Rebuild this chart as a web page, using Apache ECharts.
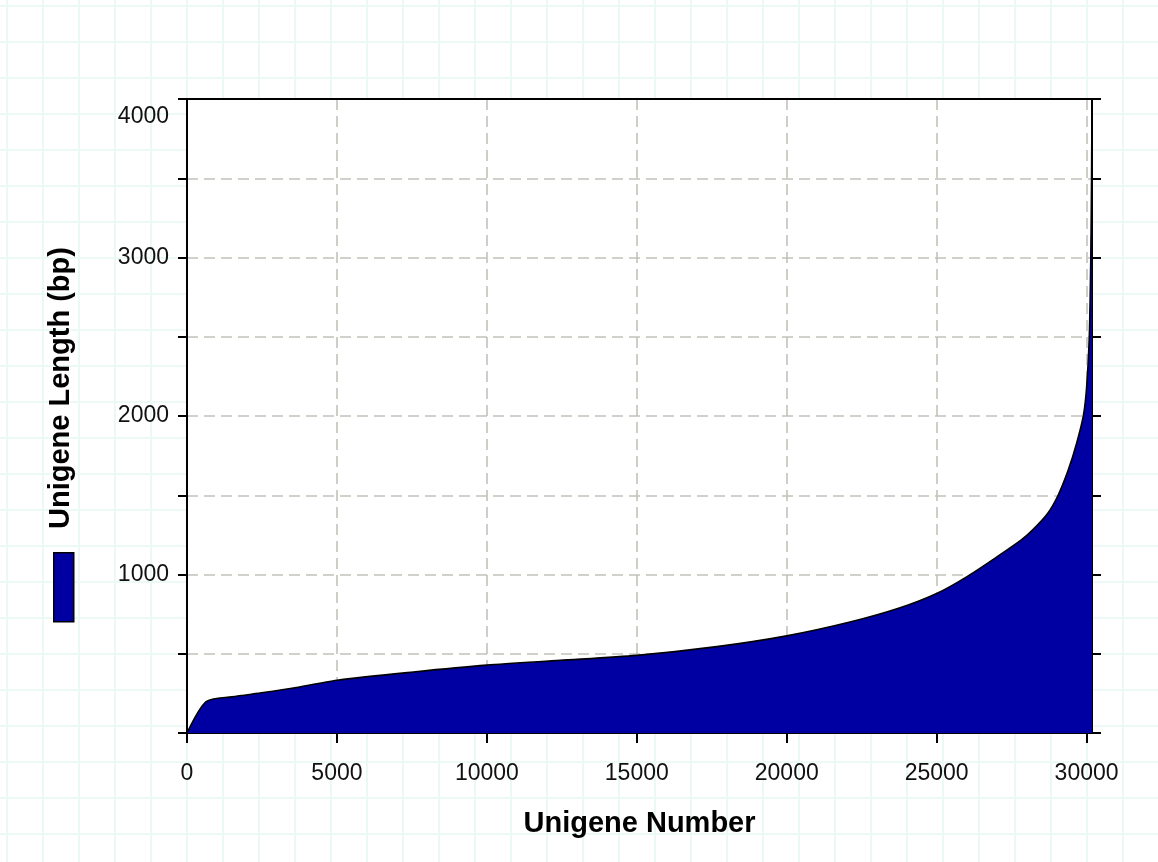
<!DOCTYPE html>
<html>
<head>
<meta charset="utf-8">
<title>Unigene Length Distribution</title>
<script src="https://cdn.jsdelivr.net/npm/echarts@6/dist/echarts.min.js"></script>
<style>
  html, body { margin: 0; padding: 0; }
  body {
    width: 1158px; height: 862px;
    background-color: #ffffff;
    background-image:
      linear-gradient(to right, #eaf8f6 2px, transparent 2px),
      linear-gradient(to bottom, #edf9f7 2px, transparent 2px);
    background-size: 36px 36px;
    background-position: 6px 5px;
  }
  #chart { width: 1158px; height: 862px; }
</style>
</head>
<body>
<div id="chart"></div>
<script>
// Unigenes sorted by length: rank (Unigene Number) vs. length in bp
const unigeneRank = [0, 640, 1500, 2550, 3500, 5000, 7550, 10000, 12440, 15000,
  17670, 20000, 22110, 23780, 25000, 26000, 27000, 27800, 28220, 28700,
  29050, 29390, 29670, 29890, 30000, 30090, 30140, 30165, 30180];
const unigeneLength = [0, 198, 228, 255, 282, 333, 385, 428, 458, 490,
  545, 613, 700, 790, 880, 985, 1110, 1215, 1285, 1385,
  1500, 1660, 1830, 2000, 2180, 2500, 3000, 3500, 4000];

const xTickValues = [0, 5000, 10000, 15000, 20000, 25000, 30000];
const yLabelValues = [1000, 2000, 3000, 4000];
const xMax = 30180;
const yMax = 4000;

const seriesName = 'Unigene Length';
const xTitle = 'Unigene Number';
const yTitle = 'Unigene Length (bp)';

const areaBlue = '#0000a2';
const fontFamily = '"Liberation Sans", Arial, sans-serif';

const points = unigeneRank.map((r, i) => [r, unigeneLength[i]]);

const chart = echarts.init(document.getElementById('chart'), null, { renderer: 'canvas' });

const axisLineStyle = { color: '#000', width: 2 };
const dashed = { color: '#c2c1b9', width: 1.6, type: [11, 6] };

chart.setOption({
  backgroundColor: 'transparent',
  animation: false,
  grid: {
    left: 187, right: 66, top: 99, bottom: 129,
    show: true, backgroundColor: '#ffffff', borderWidth: 0
  },
  legend: {
    left: 53, top: 552,
    padding: 0,
    icon: 'rect',
    itemWidth: 20, itemHeight: 69,
    itemGap: 0,
    selectedMode: false,
    formatter: () => '',
    itemStyle: { color: areaBlue, borderColor: '#000', borderWidth: 1.5 },
    data: [seriesName]
  },
  xAxis: [
    {
      type: 'value', position: 'bottom',
      min: 0, max: xMax, interval: 5000,
      name: xTitle, nameLocation: 'middle', nameGap: 76,
      nameTextStyle: { fontFamily, fontSize: 29, fontWeight: 'bold', color: '#000' },
      axisLine: { show: true, onZero: false, lineStyle: axisLineStyle },
      axisTick: { show: true, inside: false, length: 10, lineStyle: axisLineStyle, customValues: xTickValues },
      axisLabel: {
        show: true, margin: 29, fontFamily, fontSize: 23, color: '#111',
        customValues: xTickValues,
        formatter: v => (v % 5000 === 0 ? String(v) : '')
      },
      splitLine: { show: true, lineStyle: dashed }
    },
    {
      type: 'value', position: 'top',
      min: 0, max: xMax,
      axisLine: { show: true, onZero: false, lineStyle: axisLineStyle },
      axisTick: { show: false },
      axisLabel: { show: false },
      splitLine: { show: false }
    }
  ],
  yAxis: [
    {
      type: 'value', position: 'left',
      min: 0, max: yMax, interval: 500,
      name: yTitle, nameLocation: 'middle', nameGap: 112, nameRotate: 90,
      nameTextStyle: { fontFamily, fontSize: 29, fontWeight: 'bold', color: '#000', padding: [0, 0, 0, 56] },
      axisLine: { show: true, onZero: false, lineStyle: axisLineStyle },
      axisTick: { show: true, inside: false, length: 9, lineStyle: axisLineStyle },
      axisLabel: {
        show: true, margin: 18, fontFamily, fontSize: 23, color: '#111',
        formatter: v => {
          if (yLabelValues.indexOf(v) < 0) return '';
          return v === yMax ? '{top|' + v + '}' : String(v);
        },
        rich: { top: { fontFamily, fontSize: 23, color: '#111', padding: [36, 0, 0, 0] } }
      },
      splitLine: { show: true, lineStyle: dashed }
    },
    {
      type: 'value', position: 'right',
      min: 0, max: yMax, interval: 500,
      axisLine: { show: true, onZero: false, lineStyle: axisLineStyle },
      axisTick: { show: true, inside: false, length: 9, lineStyle: axisLineStyle },
      axisLabel: { show: false },
      splitLine: { show: false }
    }
  ],
  series: [
    {
      name: seriesName,
      type: 'line',
      xAxisIndex: 0, yAxisIndex: 0,
      data: points,
      showSymbol: false,
      smooth: 0.25,
      clip: true,
      itemStyle: { color: areaBlue },
      lineStyle: { color: '#000', width: 1.6 },
      areaStyle: { color: areaBlue, opacity: 1 },
      z: 3
    }
  ]
});
</script>
</body>
</html>
